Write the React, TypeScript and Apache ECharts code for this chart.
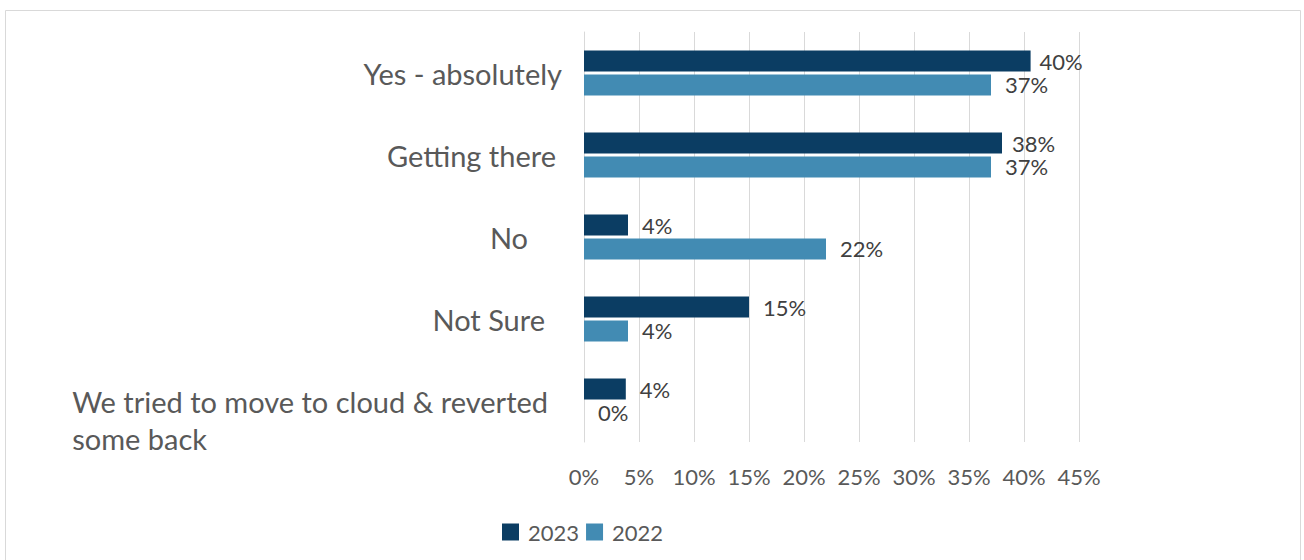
import React, { useEffect, useRef } from "react";
import * as echarts from "echarts";

const categories = [
  "Yes - absolutely",
  "Getting there",
  "No",
  "Not Sure",
  "We tried to move to cloud & reverted some back",
];
const values2023 = [40.6, 38, 4, 15, 3.8];
const values2022 = [37, 37, 22, 4, 0];
const labels2023 = ["40%", "38%", "4%", "15%", "4%"];
const labels2022 = ["37%", "37%", "22%", "4%", "0%"];
const seriesNames = ["2023", "2022"];
const xTicks = [0, 5, 10, 15, 20, 25, 30, 35, 40, 45];

const FONT = "Lato, 'Open Sans', sans-serif";
const DARK = "#0b3d63";
const LIGHT = "#428bb3";

export default function App() {
  const ref = useRef<HTMLDivElement>(null);
  useEffect(() => {
    if (!ref.current) return;
    const chart = echarts.init(ref.current, undefined, { renderer: "svg" });
    const padRight = [0, 6, 34, 17, 14];
    const rich: any = {};
    categories.forEach((_, i) => {
      rich["c" + i] = {
        fontSize: 29,
        fontFamily: FONT,
        color: "#595959",
        lineHeight: 37,
        align: "left",
        padding: [0, padRight[i], 0, 0],
      };
    });
    const dist2023 = [9, 10, 14, 14, 14];
    const option: any = {
      animation: false,
      graphic: [
        {
          type: "rect",
          shape: { x: 5.5, y: 10.5, width: 1295, height: 600 },
          style: { fill: "none", stroke: "#d9d9d9", lineWidth: 1 },
          silent: true,
        },
      ],
      legend: {
        data: seriesNames,
        left: 502,
        top: 521,
        padding: 0,
        icon: "rect",
        itemWidth: 17,
        itemHeight: 17,
        itemGap: 7,
        textStyle: {
          fontSize: 22,
          fontFamily: FONT,
          color: "#595959",
          padding: [0, 0, 0, 4],
        },
      },
      grid: { left: 584, top: 32, width: 495, height: 410, containLabel: false },
      xAxis: {
        type: "value",
        min: xTicks[0],
        max: xTicks[xTicks.length - 1],
        interval: xTicks[1] - xTicks[0],
        axisLine: { show: false },
        axisTick: { show: false },
        splitLine: { show: true, lineStyle: { color: "#d9d9d9", width: 1 } },
        axisLabel: {
          formatter: "{value}%",
          fontSize: 22,
          fontFamily: FONT,
          color: "#595959",
          margin: 23,
        },
      },
      yAxis: {
        type: "category",
        inverse: true,
        data: categories,
        axisLine: { show: true, lineStyle: { color: "#d9d9d9", width: 1 } },
        axisTick: { show: false },
        axisLabel: {
          margin: 22,
          formatter: (v: string) => {
            const i = categories.indexOf(v);
            if (i === 4) {
              return `{c4| }\n{c4|We tried to move to cloud & reverted}\n{c4|some back}`;
            }
            return `{c${i}|${v}}`;
          },
          rich,
        },
      },
      series: [
        {
          name: seriesNames[0],
          type: "bar",
          barWidth: 21,
          barGap: "14%",
          itemStyle: { color: DARK },
          data: values2023.map((v, i) => ({
            value: v,
            label: { distance: dist2023[i] },
          })),
          label: {
            show: true,
            position: "right",
            distance: 14,
            fontSize: 22,
            fontFamily: FONT,
            color: "#404040",
            formatter: (p: any) => labels2023[p.dataIndex],
          },
        },
        {
          name: seriesNames[1],
          type: "bar",
          barWidth: 21,
          barGap: "14%",
          itemStyle: { color: LIGHT },
          data: values2022,
          label: {
            show: true,
            position: "right",
            distance: 14,
            fontSize: 22,
            fontFamily: FONT,
            color: "#404040",
            formatter: (p: any) => labels2022[p.dataIndex],
          },
        },
      ],
    };
    chart.setOption(option);
    return () => chart.dispose();
  }, []);
  return (
    <div
      ref={ref}
      style={{ position: "fixed", left: 0, top: 0, width: 1304, height: 560, background: "#fff" }}
    />
  );
}
